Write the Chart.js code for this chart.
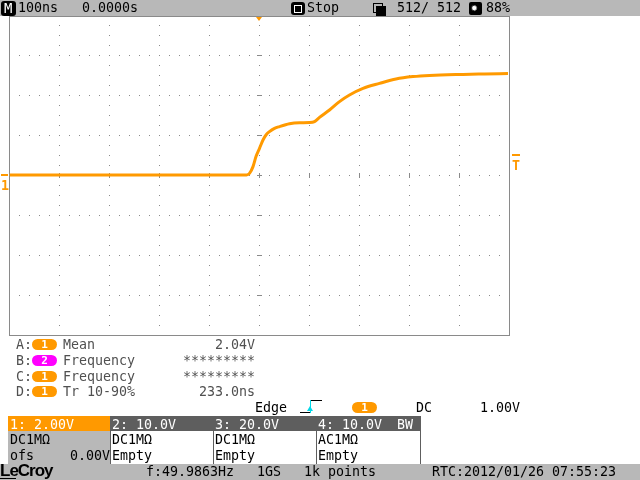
<!DOCTYPE html>
<html><head><meta charset="utf-8">
<script src="https://cdn.jsdelivr.net/npm/chart.js@4/dist/chart.umd.min.js"></script>
<style>
html,body{margin:0;padding:0}
body{width:640px;height:480px;overflow:hidden;background:#fff;position:relative;font-family:"DejaVu Sans Mono",monospace;font-size:13.3px;color:#000}
#wrap{position:absolute;left:0;top:0;width:640px;height:480px}
.t{position:absolute;white-space:pre;line-height:16px}
.g{color:#505050}
.w{color:#fff}
.bar{position:absolute;left:0;width:640px;background:#b8b8b8}
.pill{position:absolute;height:11px;width:25px;border-radius:6px;background:#ff9900;color:#fff;font-weight:bold;font-size:11px;line-height:11px;text-align:center}
.box{position:absolute}
.or{color:#ff9900;font-weight:bold}
</style></head><body>
<div id="wrap"><canvas id="c"></canvas></div>

<div class="bar" style="top:0;height:16px"></div>
<div class="bar" style="top:464px;height:16px"></div>

<!-- top bar -->
<div class="box" style="left:1px;top:1px;width:15px;height:15px;background:#000;border-radius:3px"></div>
<div class="t w" style="left:4px;top:0px;font-size:14px">M</div>
<div class="t" style="left:18px;top:0px">100ns</div>
<div class="t" style="left:82px;top:0px">0.0000s</div>
<div class="box" style="left:291px;top:2px;width:14px;height:13px;background:#000;border-radius:3px"></div>
<div class="box" style="left:294px;top:5px;width:6px;height:6px;border:1px solid #fff;background:#000"></div>
<div class="t" style="left:307px;top:0px">Stop</div>
<div class="box" style="left:373px;top:3px;width:8px;height:8px;border:1px solid #000;background:#b8b8b8"></div>
<div class="box" style="left:376px;top:6px;width:8px;height:8px;border:1px solid #000;background:#000"></div>
<div class="t" style="left:397px;top:0px">512/ 512</div>
<div class="box" style="left:469px;top:2px;width:13px;height:13px;background:#000;border-radius:2px"></div>
<div class="t w" style="left:471px;top:0px;font-size:11px">✹</div>
<div class="t" style="left:486px;top:0px">88%</div>

<!-- markers -->
<div class="box" style="left:256px;top:17px;width:0;height:0;border-left:3.5px solid transparent;border-right:3.5px solid transparent;border-top:4px solid #ff9900"></div>
<div class="box" style="left:1px;top:174px;width:7px;height:2px;background:#ff9900"></div>
<div class="t or" style="left:1px;top:178px">1</div>
<div class="box" style="left:512px;top:154px;width:8px;height:2px;background:#ff9900"></div>
<div class="t or" style="left:512px;top:158px">T</div>

<!-- measurements -->
<div class="t g" style="left:16px;top:337px">A:</div>
<div class="pill" style="left:32px;top:339px">1</div>
<div class="t g" style="left:63px;top:337px">Mean</div>
<div class="t g" style="left:215px;top:337px">2.04V</div>

<div class="t g" style="left:16px;top:352.5px">B:</div>
<div class="pill" style="left:32px;top:354.5px;background:#ff00ff">2</div>
<div class="t g" style="left:63px;top:352.5px">Frequency</div>
<div class="t g" style="left:183px;top:352.5px">*********</div>

<div class="t g" style="left:16px;top:368.5px">C:</div>
<div class="pill" style="left:32px;top:370.5px">1</div>
<div class="t g" style="left:63px;top:368.5px">Frequency</div>
<div class="t g" style="left:183px;top:368.5px">*********</div>

<div class="t g" style="left:16px;top:384px">D:</div>
<div class="pill" style="left:32px;top:386px">1</div>
<div class="t g" style="left:63px;top:384px">Tr 10-90%</div>
<div class="t g" style="left:199px;top:384px">233.0ns</div>

<!-- trigger row -->
<div class="t" style="left:255px;top:399.5px">Edge</div>
<div class="box" style="left:300px;top:412px;width:10px;height:1px;background:#000"></div>
<div class="box" style="left:310px;top:400px;width:1px;height:13px;background:#00d8e8"></div>
<div class="box" style="left:311px;top:400px;width:11px;height:1px;background:#000"></div>
<div class="box" style="left:307px;top:406px;width:0;height:0;border-left:3.5px solid transparent;border-right:3.5px solid transparent;border-bottom:5px solid #00d8e8"></div>
<div class="pill" style="left:352px;top:401.5px">1</div>
<div class="t" style="left:416px;top:399.5px">DC</div>
<div class="t" style="left:480px;top:399.5px">1.00V</div>

<!-- channel boxes -->
<div class="box" style="left:8px;top:416px;width:413px;height:48px;background:#5e5e5e"></div>
<div class="box" style="left:8px;top:416px;width:102px;height:15px;background:#ff9900"></div>
<div class="box" style="left:8px;top:431px;width:102px;height:33px;background:#b8b8b8"></div>
<div class="box" style="left:111px;top:431px;width:102px;height:33px;background:#fff"></div>
<div class="box" style="left:214px;top:431px;width:102px;height:33px;background:#fff"></div>
<div class="box" style="left:317px;top:431px;width:103px;height:33px;background:#fff"></div>

<div class="t w" style="left:10px;top:416.5px">1: 2.00V</div>
<div class="t w" style="left:112px;top:416.5px">2: 10.0V</div>
<div class="t w" style="left:215px;top:416.5px">3: 20.0V</div>
<div class="t w" style="left:318px;top:416.5px">4: 10.0V</div>
<div class="t w" style="left:397px;top:416.5px">BW</div>

<div class="t" style="left:10px;top:431.5px">DC1MΩ</div>
<div class="t" style="left:112px;top:431.5px">DC1MΩ</div>
<div class="t" style="left:215px;top:431.5px">DC1MΩ</div>
<div class="t" style="left:318px;top:431.5px">AC1MΩ</div>
<div class="t" style="left:10px;top:447.5px">ofs</div>
<div class="t" style="left:70px;top:447.5px">0.00V</div>
<div class="t" style="left:112px;top:447.5px">Empty</div>
<div class="t" style="left:215px;top:447.5px">Empty</div>
<div class="t" style="left:318px;top:447.5px">Empty</div>

<!-- status bar -->
<div class="t" style="left:0px;top:463px;font-family:'Liberation Sans',sans-serif;font-weight:bold;font-size:17px;letter-spacing:-1px">LeCroy</div>
<div class="box" style="left:0px;top:478px;width:16px;height:1px;background:#000"></div>
<div class="t" style="left:146px;top:464px">f:49.9863Hz</div>
<div class="t" style="left:257px;top:464px">1GS</div>
<div class="t" style="left:304px;top:464px">1k points</div>
<div class="t" style="left:432px;top:464px">RTC:2012/01/26 07:55:23</div>

<script>
// time in ns (100 ns/div, trigger at 0), channel 1 voltage in V (2 V/div)
const timesNs = [-500, -400, -300, -200, -100, -40, -26, -20, -13, -7, 0, 7, 13, 20, 30, 40, 60, 80, 100, 110, 120, 140, 160, 180, 207, 240, 273, 307, 340, 407, 450, 497];
const ch1Volts = [0, 0, 0, 0, 0, 0, 0, 0.08, 0.42, 0.92, 1.33, 1.75, 2.0, 2.17, 2.33, 2.42, 2.56, 2.61, 2.62, 2.67, 2.88, 3.25, 3.67, 4.0, 4.33, 4.58, 4.8, 4.92, 4.98, 5.03, 5.05, 5.07];
const xMajorTicks = [-400, -300, -200, -100, 0, 100, 200, 300, 400];
const yMajorTicks = [-6, -4, -2, 0, 2, 4, 6];

const graticule = {
  id: 'graticule',
  beforeDatasetsDraw(chart) {
    const ctx = chart.ctx, a = chart.chartArea;
    const xs = chart.scales.x, ys = chart.scales.y;
    ctx.save();
    ctx.fillStyle = '#8a8a8a';
    const L = Math.floor(a.left), R = Math.floor(a.right), T = Math.round(a.top), B = Math.round(a.bottom);
    xMajorTicks.forEach(v => {
      const px = Math.floor(xs.getPixelForValue(v));
      for (let y = T + 10; y < B; y += 10) ctx.fillRect(px, y, 1, 1);
    });
    yMajorTicks.forEach(v => {
      const py = Math.round(ys.getPixelForValue(v));
      for (let x = L + 10; x < R; x += 10) ctx.fillRect(x, py, 1, 1);
    });
    const cx = Math.floor(xs.getPixelForValue(0)), cy = Math.round(ys.getPixelForValue(0));
    yMajorTicks.forEach(v => {
      const py = Math.round(ys.getPixelForValue(v));
      ctx.fillRect(cx - 2, py, 5, 1);
    });
    xMajorTicks.forEach(v => {
      const px = Math.floor(xs.getPixelForValue(v));
      ctx.fillRect(px, cy - 2, 1, 5);
    });
    ctx.strokeStyle = '#8a8a8a';
    ctx.lineWidth = 1;
    ctx.strokeRect(L + 0.5, T + 1.5, R - L, B - T - 1);
    ctx.restore();
  }
};

new Chart(document.getElementById('c'), {
  type: 'line',
  data: {
    datasets: [{
      data: timesNs.map((t, i) => ({ x: t, y: ch1Volts[i] })),
      borderColor: '#ff9a00',
      borderWidth: 3,
      pointRadius: 0,
      cubicInterpolationMode: 'monotone',
      fill: false
    }]
  },
  options: {
    responsive: true,
    maintainAspectRatio: false,
    animation: false,
    events: [],
    layout: { padding: { left: 9.5, top: 15, right: 130.5, bottom: 145 } },
    plugins: { legend: { display: false }, tooltip: { enabled: false } },
    scales: {
      x: { type: 'linear', min: -500, max: 500, display: false },
      y: { type: 'linear', min: -8, max: 8, display: false }
    }
  },
  plugins: [graticule]
});
</script>
</body></html>
